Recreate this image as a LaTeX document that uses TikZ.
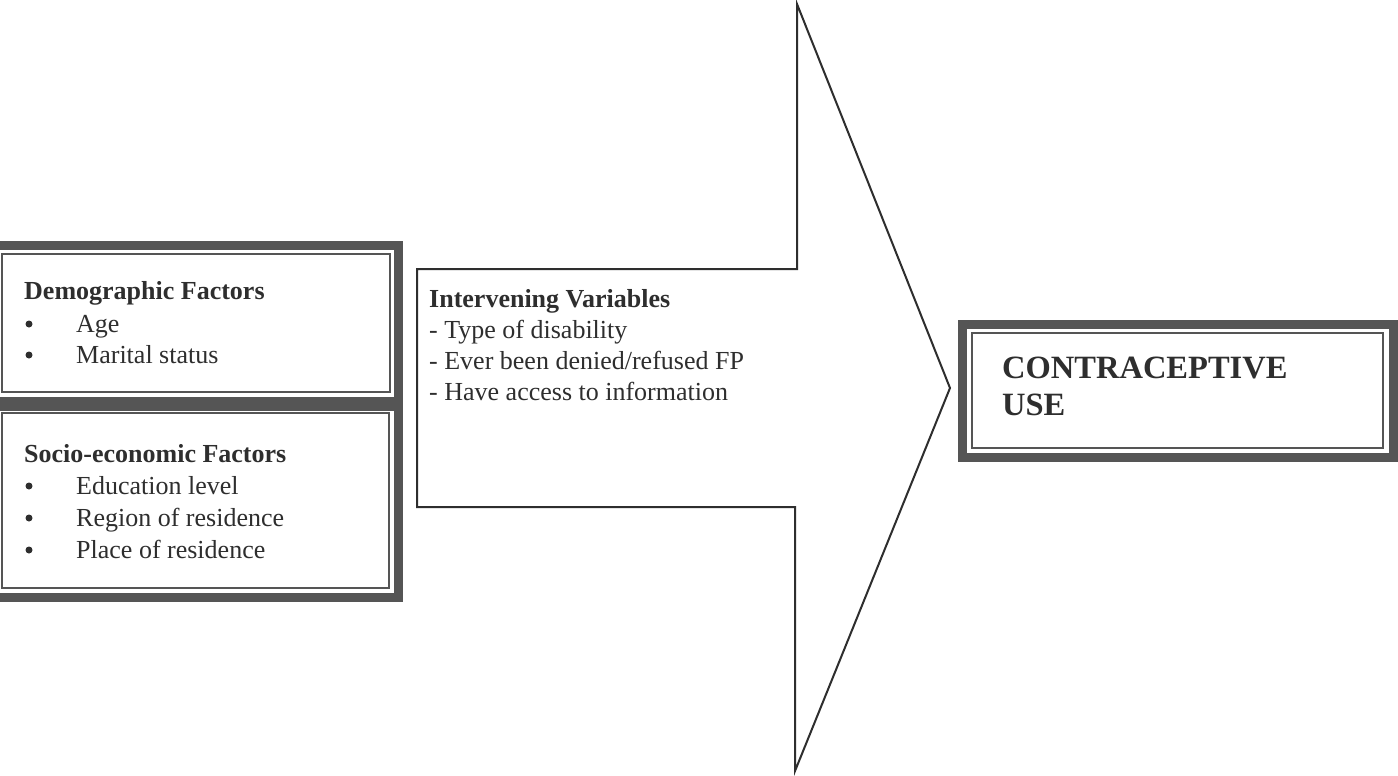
\documentclass[tikz,border=0pt]{standalone}
\usepackage{fontspec}
\setmainfont{Liberation Serif}
\definecolor{frame}{HTML}{555555}
\definecolor{ink}{HTML}{2E2E2E}
\begin{document}
\begin{tikzpicture}[x=1pt,y=-1pt,
  thickframe/.style={draw=frame,line width=9pt},
  thinframe/.style={draw=frame,line width=1.6pt},
  arrowshape/.style={draw=ink,line width=2pt,line join=miter},
  txt/.style={anchor=base west,inner sep=0pt,text=ink,font=\fontsize{26}{31}\selectfont},
  hdr/.style={txt,font=\fontsize{26}{31}\selectfont\bfseries},
  big/.style={anchor=base west,inner sep=0pt,text=ink,font=\fontsize{32.5}{37}\selectfont\bfseries},
  bul/.style={circle,fill=ink,inner sep=0pt,minimum size=7pt}]
\useasboundingbox (0,0) rectangle (1398,776);
\fill[white] (0,0) rectangle (1398,776);

% big arrow
\draw[arrowshape] (417,269) -- (797,269) -- (797,4) -- (950,388) -- (795,771) -- (795,507) -- (417,507) -- cycle;
\node[inner sep=0pt] (arrow) at (683,388) {};

% left boxes
\draw[thickframe] (-10,245.5) rectangle (398.5,401.5);
\draw[thinframe] (2,254) rectangle (390,392);
\draw[thickframe] (-10,406) rectangle (398.5,597);
\draw[thinframe] (2,413) rectangle (389,588);

% outcome box
\draw[thickframe] (962,324) rectangle (1393,457.5);
\draw[thinframe] (972,333) rectangle (1383,448);

% demographic
\node[hdr] (demo) at (24,299) {Demographic Factors};
\node[bul] (b1) at (29,324) {};
\node[txt] (age) at (76,332) {Age};
\node[bul] (b2) at (29,355) {};
\node[txt] (mar) at (76,363) {Marital status};

% socio-economic
\node[hdr] (socio) at (24,462) {Socio-economic Factors};
\node[bul] (b3) at (29,486) {};
\node[txt] (edu) at (76,494) {Education level};
\node[bul] (b4) at (29,518) {};
\node[txt] (reg) at (76,526) {Region of residence};
\node[bul] (b5) at (29,550) {};
\node[txt] (pla) at (76,558) {Place of residence};

% intervening
\node[hdr] (intv) at (429,307) {Intervening Variables};
\node[txt] (i1) at (429,338) {- Type of disability};
\node[txt] (i2) at (429,369) {- Ever been denied/refused FP};
\node[txt] (i3) at (429,400) {- Have access to information};

% outcome
\node[big] (out1) at (1002,378) {CONTRACEPTIVE};
\node[big] (out2) at (1002,415) {USE};
\end{tikzpicture}
\end{document}
